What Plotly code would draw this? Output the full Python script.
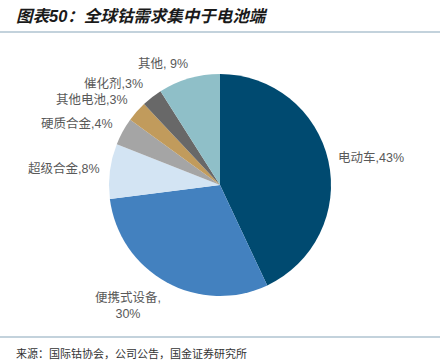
import plotly.graph_objects as go

categories = ["电动车", "便携式设备", "超级合金", "硬质合金", "其他电池", "催化剂", "其他"]
values = [43, 30, 8, 4, 3, 3, 9]
colors = ["#004a70", "#4381bf", "#d3e4f3", "#a5a5a5", "#c19b5c", "#686868", "#8fbfc8"]
label_text = ["电动车,43%", "便携式设备,<br>30%", "超级合金,8%", "硬质合金,4%",
              "其他电池,3%", "催化剂,3%", "其他, 9%"]
label_px = [(371, 157), (128, 305), (64, 168), (77, 123), (92, 100), (113, 83), (163, 64)]

W, H = 440, 361

def px(x, y):
    return x / W, 1 - y / H

cx, cy, r = 220, 185, 111
fig = go.Figure(go.Pie(
    labels=categories, values=values, sort=False, direction="clockwise", rotation=0,
    marker=dict(colors=colors, line=dict(width=0)),
    textinfo="none", hoverinfo="label+percent", showlegend=False,
    domain=dict(x=[(cx - r) / W, (cx + r) / W], y=[1 - (cy + r) / H, 1 - (cy - r) / H]),
))

font_cjk = "Noto Sans CJK SC"
ann = []
for t, (x, y) in zip(label_text, label_px):
    ax, ay = px(x, y)
    ann.append(dict(text=t, x=ax, y=ay, xref="paper", yref="paper", showarrow=False,
                    xanchor="center", yanchor="middle",
                    font=dict(family="Arial, " + font_cjk, size=12.5, color="#595959")))

tx, ty = px(14, 16)
ann.append(dict(text="<b><i>图表50：全球钴需求集中于电池端</i></b>", x=tx, y=ty, xref="paper", yref="paper",
                showarrow=False, xanchor="left", yanchor="middle",
                font=dict(family="Arial, " + font_cjk, size=16.5, color="#1a1a1a")))
sx, sy = px(14, 353)
ann.append(dict(text="来源：国际钴协会，公司公告，国金证券研究所", x=sx, y=sy, xref="paper", yref="paper",
                showarrow=False, xanchor="left", yanchor="middle",
                font=dict(family=font_cjk, size=11, color="#333333")))

shapes = [
    dict(type="line", xref="paper", yref="paper", x0=0, x1=1, y0=1 - 32 / H, y1=1 - 32 / H,
         line=dict(color="#c3d2dc", width=2)),
    dict(type="line", xref="paper", yref="paper", x0=0, x1=1, y0=1 - 337 / H, y1=1 - 337 / H,
         line=dict(color="#c3d2dc", width=2)),
]

fig.update_layout(width=W, height=H, margin=dict(l=0, r=0, t=0, b=0),
                  paper_bgcolor="white", plot_bgcolor="white",
                  annotations=ann, shapes=shapes)
fig.write_html("out.html", config={"displayModeBar": False},
               post_script="document.body.style.margin='0px';document.body.style.overflow='hidden';")
